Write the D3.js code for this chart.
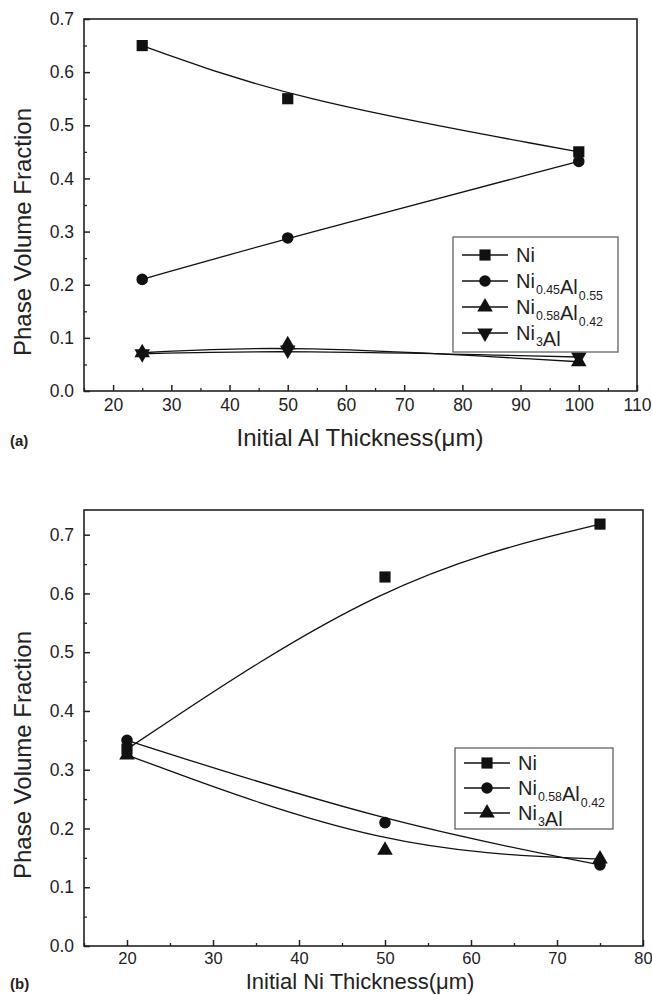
<!doctype html>
<html>
<head>
<script src="https://cdnjs.cloudflare.com/ajax/libs/d3/7.8.5/d3.min.js"></script>
<style>
body { margin: 0; background: #fff; }
text { font-family: "Liberation Sans", Arial, sans-serif; fill: #222; }
</style>
</head>
<body>
<svg id="chart" width="652" height="995"></svg>
<script>
// panel (a): initial Al thickness
var thickA = [25, 50, 100];
var niA = [0.65, 0.55, 0.45];
var ni45A = [0.21, 0.288, 0.432];
var ni58A = [0.072, 0.087, 0.055];
var ni3A = [0.070, 0.077, 0.064];
var xTicksA = [20, 30, 40, 50, 60, 70, 80, 90, 100, 110];

// panel (b): initial Ni thickness
var thickB = [20, 50, 75];
var niB = [0.335, 0.628, 0.718];
var ni58B = [0.35, 0.21, 0.138];
var ni3B = [0.325, 0.163, 0.148];
var xTicksB = [20, 30, 40, 50, 60, 70, 80];

var yTicks = [0.0, 0.1, 0.2, 0.3, 0.4, 0.5, 0.6, 0.7];

var svg = d3.select("#chart");

var symSquare = d3.symbol().type(d3.symbolSquare).size(125);
var symCircle = d3.symbol().type(d3.symbolCircle).size(105);
var symTri = d3.symbol().type(d3.symbolTriangle).size(105);

function drawPanel(p) {
  var g = svg.append("g");
  var x = d3.scaleLinear().domain(p.xDomain).range([p.left, p.right]);
  var y = d3.scaleLinear().domain(p.yDomain).range([p.bottom, p.top]);

  // minor ticks
  var xMinor = d3.range(p.xDomain[0], p.xDomain[1] + 0.1, 5).filter(function(v) { return p.xTicks.indexOf(v) < 0; });
  var yMinor = d3.range(0.05, p.yDomain[1], 0.1);

  g.append("g").attr("transform", "translate(0," + p.bottom + ")")
    .call(d3.axisBottom(x).tickValues(xMinor).tickSize(-3).tickFormat(""))
    .call(function(a) { a.select(".domain").remove(); a.selectAll("line").attr("stroke", "#222").attr("stroke-width", 1.3); });
  g.append("g").attr("transform", "translate(0," + p.bottom + ")")
    .call(d3.axisBottom(x).tickValues(p.xTicks).tickSize(-6).tickPadding(p.xPad).tickFormat(d3.format("d")))
    .call(function(a) {
      a.select(".domain").remove();
      a.selectAll("line").attr("stroke", "#222").attr("stroke-width", 1.5);
      a.selectAll("text").attr("font-size", p.tickFont).attr("fill", "#222");
    });
  g.append("g").attr("transform", "translate(" + p.left + ",0)")
    .call(d3.axisLeft(y).tickValues(yMinor).tickSize(-3).tickFormat(""))
    .call(function(a) { a.select(".domain").remove(); a.selectAll("line").attr("stroke", "#222").attr("stroke-width", 1.3); });
  g.append("g").attr("transform", "translate(" + p.left + ",0)")
    .call(d3.axisLeft(y).tickValues(yTicks).tickSize(-6).tickPadding(10).tickFormat(d3.format(".1f")))
    .call(function(a) {
      a.select(".domain").remove();
      a.selectAll("line").attr("stroke", "#222").attr("stroke-width", 1.5);
      a.selectAll("text").attr("font-size", 17.5).attr("fill", "#222");
    });

  // frame
  g.append("rect").attr("x", p.left).attr("y", p.top)
    .attr("width", p.right - p.left).attr("height", p.bottom - p.top)
    .attr("fill", "none").attr("stroke", "#222").attr("stroke-width", 1.6);

  var line = d3.line().x(function(d) { return x(d[0]); }).y(function(d) { return y(d[1]); }).curve(d3.curveBasis);

  p.series.forEach(function(s) {
    var pts = p.xs.map(function(v, i) { return [v, s.values[i]]; });
    g.append("path").attr("d", line(pts)).attr("fill", "none").attr("stroke", "#111").attr("stroke-width", 1.3);
  });
  p.series.forEach(function(s) {
    var pts = p.xs.map(function(v, i) { return [v, s.values[i]]; });
    g.selectAll(null).data(pts).enter().append("path")
      .attr("d", s.sym)
      .attr("transform", function(d) { return "translate(" + x(d[0]) + "," + y(d[1]) + ")" + (s.flip ? " rotate(180)" : ""); })
      .attr("fill", "#111");
  });

  // legend
  var lg = g.append("g");
  lg.append("rect").attr("x", p.legend.x).attr("y", p.legend.y)
    .attr("width", p.legend.w).attr("height", p.legend.h)
    .attr("fill", "#fff").attr("stroke", "#555").attr("stroke-width", 1.2);
  p.series.forEach(function(s, i) {
    var cy = p.legend.y + p.legend.first + i * p.legend.step;
    var lx = p.legend.x + 9;
    lg.append("line").attr("x1", lx).attr("x2", lx + 46).attr("y1", cy).attr("y2", cy)
      .attr("stroke", "#111").attr("stroke-width", 1.3);
    lg.append("path").attr("d", s.sym)
      .attr("transform", "translate(" + (lx + 23) + "," + cy + ")" + (s.flip ? " rotate(180)" : ""))
      .attr("fill", "#111");
    var t = lg.append("text").attr("x", lx + 54).attr("y", cy + 7).attr("font-size", p.legend.font);
    s.label.forEach(function(part) {
      if (part.sub) {
        t.append("tspan").attr("font-size", p.legend.font * 0.62).attr("dy", 6).attr("dx", 1).text(part.sub);
        t.append("tspan").attr("dy", -6).text("");
      } else {
        t.append("tspan").text(part.t);
      }
    });
  });

  // axis titles
  svg.append("text").attr("transform", "translate(" + p.yTitleX + "," + ((p.top + p.bottom) / 2 + 27) + ") rotate(-90)")
    .attr("text-anchor", "middle").attr("font-size", 24).text("Phase Volume Fraction");
  var xt = svg.append("text").attr("x", 360).attr("y", p.xTitleY)
    .attr("text-anchor", "middle").attr("font-size", p.titleFont);
  xt.append("tspan").text(p.xTitle);
  xt.append("tspan").text("(\u03bcm)");
  svg.append("text").attr("x", 10).attr("y", p.xTitleY).attr("font-size", 15)
    .attr("font-weight", "bold").text(p.tag);
}

drawPanel({
  left: 84, right: 637, top: 19, bottom: 391,
  xDomain: [15, 110], yDomain: [0, 0.7],
  xTicks: xTicksA, xs: thickA, xPad: 8, tickFont: 17.5, titleFont: 24,
  yTitleX: 31, xTitleY: 446, xTitle: "Initial Al Thickness", tag: "(a)",
  legend: { x: 453, y: 237, w: 165, h: 115, first: 18, step: 26, font: 20 },
  series: [
    { values: niA, sym: symSquare, label: [{ t: "Ni" }] },
    { values: ni45A, sym: symCircle, label: [{ t: "Ni" }, { sub: "0.45" }, { t: "Al" }, { sub: "0.55" }] },
    { values: ni58A, sym: symTri, label: [{ t: "Ni" }, { sub: "0.58" }, { t: "Al" }, { sub: "0.42" }] },
    { values: ni3A, sym: symTri, flip: true, label: [{ t: "Ni" }, { sub: "3" }, { t: "Al" }] }
  ]
});

drawPanel({
  left: 84, right: 643, top: 510, bottom: 946,
  xDomain: [15, 80], yDomain: [0, 0.742],
  xTicks: xTicksB, xs: thickB, xPad: 6, tickFont: 16.5, titleFont: 22,
  yTitleX: 31, xTitleY: 989, xTitle: "Initial Ni Thickness", tag: "(b)",
  legend: { x: 455, y: 748, w: 158, h: 81, first: 15, step: 25, font: 20 },
  series: [
    { values: niB, sym: symSquare, label: [{ t: "Ni" }] },
    { values: ni58B, sym: symCircle, label: [{ t: "Ni" }, { sub: "0.58" }, { t: "Al" }, { sub: "0.42" }] },
    { values: ni3B, sym: symTri, label: [{ t: "Ni" }, { sub: "3" }, { t: "Al" }] }
  ]
});
</script>
</body>
</html>
